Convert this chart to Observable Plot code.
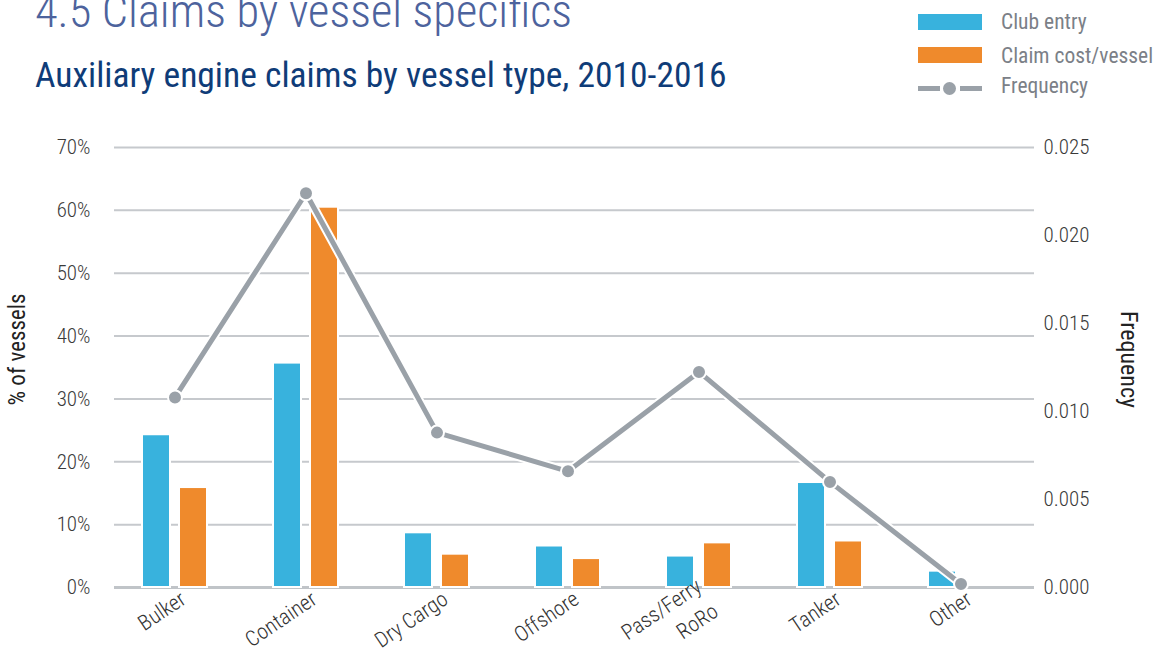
<!DOCTYPE html>
<html>
<head>
<meta charset="utf-8">
<script src="https://cdn.jsdelivr.net/npm/d3@7"></script>
<script src="https://cdn.jsdelivr.net/npm/@observablehq/plot@0.6"></script>
<style>
  html, body { margin: 0; padding: 0; background: #fff; }
  body { width: 1160px; height: 654px; overflow: hidden; font-family: "Roboto Condensed", "Liberation Sans Narrow", "Arial Narrow", Roboto, sans-serif; }
  #header { position: relative; width: 1160px; height: 110px; overflow: hidden; }
  #header div { position: absolute; white-space: nowrap; }
  .title { left: 35px; top: -12px; font-size: 46.5px; line-height: 46.5px; color: #4d639d; font-weight: 300; }
  .subtitle { left: 35px; top: 58px; font-size: 35.5px; line-height: 35.5px; color: #0f3c78; }
  .lt { left: 1001px; font-size: 21.5px; line-height: 21.5px; color: #7b8087; }
  .sw { left: 918px; width: 64px; height: 16px; }
</style>
</head>
<body>
<div id="header">
  <div class="title">4.5 Claims by vessel specifics</div>
  <div class="subtitle">Auxiliary engine claims by vessel type, 2010-2016</div>
  <div class="sw" style="top:14px;background:#38b2dd"></div>
  <div class="lt" style="top:11px">Club entry</div>
  <div class="sw" style="top:47px;background:#ef8a2c"></div>
  <div class="lt" style="top:45px">Claim cost/vessel</div>
  <div style="left:918px;top:86px;width:22px;height:5px;background:#9aa1a8"></div>
  <div style="left:960px;top:86px;width:22px;height:5px;background:#9aa1a8"></div>
  <div style="left:943px;top:82px;width:13px;height:13px;border-radius:50%;background:#9aa1a8"></div>
  <div class="lt" style="top:75px">Frequency</div>
</div>
<div id="chart"></div>
<script>
const categories = ["Bulker", "Container", "Dry Cargo", "Offshore", "Pass/Ferry RoRo", "Tanker", "Other"];
const clubEntry = [24.3, 35.7, 8.7, 6.6, 5.0, 16.7, 2.6];       // % of vessels
const claimCost = [15.9, 60.5, 5.3, 4.6, 7.1, 7.4, 0];          // % of claim cost
const frequency = [0.0108, 0.0224, 0.0088, 0.0066, 0.01225, 0.0060, 0.0002];
const leftTicks = [0, 10, 20, 30, 40, 50, 60, 70];
const rightTicks = [0, 0.005, 0.010, 0.015, 0.020, 0.025];
const leftMax = 70, rightMax = 0.025;
const k = leftMax / rightMax;

const rows = categories.map((c, i) => ({cat: c, club: clubEntry[i], claim: claimCost[i], freq: frequency[i] * k}));

const font = '"Roboto Condensed", "Liberation Sans Narrow", "Arial Narrow", Roboto, sans-serif';
const grey = "#9aa1a8";

const chart = Plot.plot({
  width: 1160,
  height: 544,
  marginTop: 37,
  marginBottom: 67,
  marginLeft: 107,
  marginRight: 132,
  style: {fontFamily: font, fontSize: "21px", color: "#333", background: "#fff"},
  x: {domain: categories, padding: 0},
  y: {domain: [0, leftMax]},
  marks: [
    Plot.ruleY(leftTicks.filter(d => d > 0), {stroke: "#c6c9cd", strokeWidth: 2, insetLeft: 7, insetRight: -6}),
    Plot.ruleY([0], {stroke: "#c0c4c8", strokeWidth: 3, insetLeft: 7, insetRight: -6}),
    Plot.barY(rows, {x: "cat", y: "club", fill: "#38b2dd", stroke: "#fff", strokeWidth: 2, insetLeft: 33, insetRight: 70}),
    Plot.barY(rows, {x: "cat", y: "claim", fill: "#ef8a2c", stroke: "#fff", strokeWidth: 2, insetLeft: 70, insetRight: 33}),
    Plot.line(rows, {x: "cat", y: "freq", stroke: "#fff", strokeWidth: 9}),
    Plot.line(rows, {x: "cat", y: "freq", stroke: grey, strokeWidth: 5}),
    Plot.dot(rows, {x: "cat", y: "freq", r: 7, fill: grey, stroke: "#fff", strokeWidth: 2}),
    Plot.axisY(leftTicks, {anchor: "left", tickSize: 0, tickPadding: 17, tickFormat: d => d + "%", label: null, fill: "#3a3a3a", fontWeight: 300}),
    Plot.axisY(rightTicks.map(d => d * k), {anchor: "right", tickSize: 0, tickPadding: 15, tickFormat: d => (d / k).toFixed(3), label: null, fill: "#3a3a3a", fontWeight: 300}),
    Plot.axisX({tickSize: 0, tickPadding: 7, tickRotate: -34, dx: 7, label: null, fill: "#333", fontWeight: 300, fontSize: 21.5, lineHeight: 1.4,
      tickFormat: d => d === "Pass/Ferry RoRo" ? "Pass/Ferry\nRoRo" : d}),
    Plot.text(["% of vessels"], {frameAnchor: "left", textAnchor: "middle", dx: -90, dy: -18, rotate: -90, fontSize: 23, fill: "#222"}),
    Plot.text(["Frequency"], {frameAnchor: "right", textAnchor: "middle", dx: 100, dy: -8, rotate: 90, fontSize: 24, fill: "#222"})
  ]
});
document.getElementById("chart").appendChild(chart);
</script>
</body>
</html>
